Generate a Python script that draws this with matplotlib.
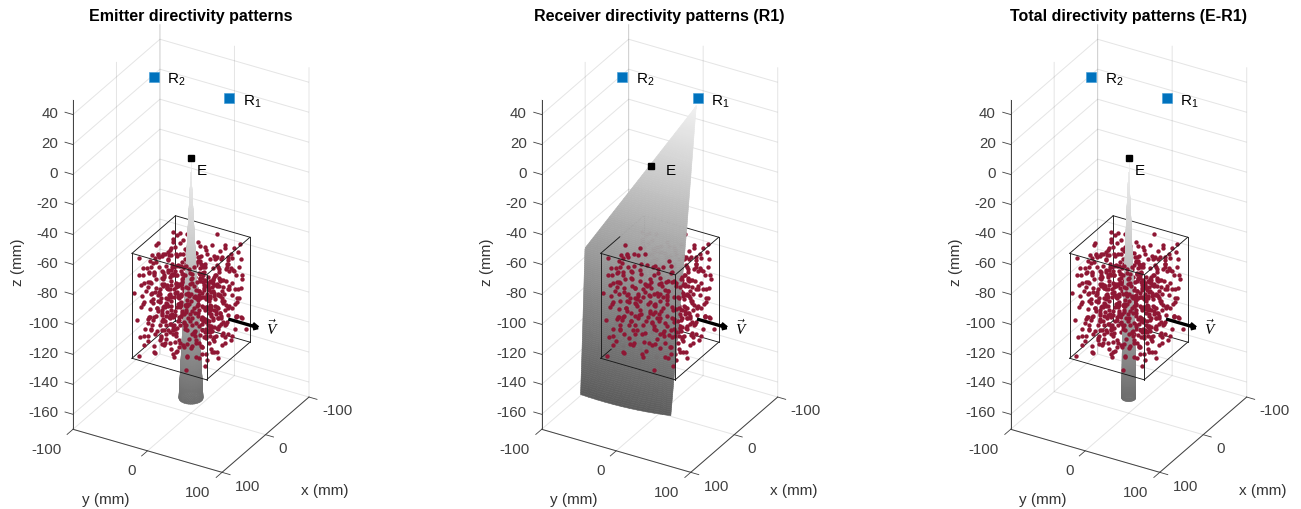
import numpy as np
import matplotlib
matplotlib.use('Agg')
import matplotlib.pyplot as plt
from mpl_toolkits.mplot3d import proj3d

plt.rcParams['font.family'] = ['Liberation Sans', 'DejaVu Sans']
plt.rcParams['mathtext.fontset'] = 'custom'
plt.rcParams['mathtext.rm'] = 'Liberation Sans'
plt.rcParams['mathtext.it'] = 'Liberation Serif:italic'
plt.rcParams['axes.unicode_minus'] = False

W, H = 1301, 509
titles = ['Emitter directivity patterns', 'Receiver directivity patterns (R1)', 'Total directivity patterns (E-R1)']
xy_ticks = [-100, 0, 100]
z_ticks = list(range(-160, 41, 20))
emitter = [(0, 0, 0), (20, 0, 0), (0, 0, 0)]
r1 = (-22, 38, 40)
r2 = (-22, -63, 40)
velocity = (0, 50, -100, 0, 40, 0)
box_x = (-50, 50); box_y = (-50, 50); box_z = (-128, -58)

# scatterers: (x, y, z) in mm
scatterers = [
(41,-46,-63),(-12,-38,-71),(27,-44,-88),(-33,-47,-102),(8,-41,-119),(46,-36,-77),(-44,-31,-66),(19,-33,-95),(-25,-42,-111),(36,-28,-124),
(2,-48,-83),(-8,-29,-60),(31,-39,-105),(-38,-35,-90),(14,-26,-72),(44,-43,-114),(-19,-24,-99),(24,-30,-62),(-47,-40,-122),(6,-35,-108),
(38,-22,-85),(-29,-27,-75),(12,-45,-68),(-41,-23,-116),(29,-37,-93),(-5,-43,-126),(48,-25,-103),(-16,-33,-81),(21,-21,-118),(-35,-44,-64),
(33,-48,-98),(-10,-20,-89),(4,-24,-113),(42,-32,-70),(-23,-37,-125),(17,-47,-79),(-48,-28,-87),(26,-18,-107),(-2,-31,-96),(37,-41,-121),
(-31,-19,-73),(11,-28,-65),(45,-19,-91),(-14,-46,-117),(22,-25,-83),(-42,-45,-100),(7,-17,-76),(34,-34,-110),(-27,-30,-61),(16,-40,-127),
(-6,-22,-104),(40,-15,-67),(-37,-16,-94),(28,-23,-120),(-18,-41,-86),(47,-30,-78),(1,-37,-69),(-45,-20,-109),(20,-14,-101),(-9,-34,-123),
(36,-46,-82),(-24,-13,-92),(13,-19,-59),(43,-11,-115),(-33,-25,-74),(5,-12,-97),(30,-16,-112),(-46,-13,-84),(-13,-16,-66),(24,-42,-106),
(-40,-38,-79),(10,-36,-90),(39,-27,-100),(-21,-21,-119),(-3,-14,-72),(18,-10,-126),(49,-14,-62),(-28,-9,-108),(32,-8,-94),(-43,-6,-71),
(3,-8,-116),(25,-12,-77),(-15,-7,-63),(44,-5,-88),(-35,-11,-124),(12,-6,-103),(37,-3,-68),(-8,-10,-85),(-49,-2,-95),(21,-4,-121),
(-26,-3,-80),(7,-2,-110),(41,-9,-96),(-17,-1,-70),(29,0,-64),(-39,1,-113),(16,2,-86),(46,3,-105),(-6,4,-118),(-30,5,-91),
(34,6,-75),(-47,7,-61),(9,-1,-99),(23,8,-125),(-12,9,-78),(42,10,-111),(-36,-4,-102),(2,11,-67),(31,12,-89),(-22,13,-122),
(48,1,-83),(-44,14,-76),(14,6,-93),(-3,15,-107),(38,16,-60),(-27,17,-98),(19,18,-114),(-14,3,-69),(45,19,-127),(-33,20,-87),
(6,21,-82),(27,5,-117),(-41,22,-65),(11,23,-101),(35,24,-73),(-19,25,-92),(-8,26,-120),(43,7,-97),(-48,27,-108),(22,28,-62),
(0,29,-84),(-31,30,-74),(16,31,-126),(39,32,-91),(-24,33,-112),(47,34,-71),(-10,35,-104),(28,36,-80),(-37,37,-118),(5,38,-59),
(33,39,-95),(-16,40,-66),(18,41,-109),(-45,42,-86),(42,43,-122),(-5,44,-77),(25,45,-100),(-29,46,-63),(10,47,-115),(36,48,-88),
(-20,49,-103),(-42,34,-93),(8,42,-72),(44,27,-68),(-13,31,-90),(30,22,-106),(-35,26,-79),(3,33,-124),(20,37,-83),(-49,12,-116),
(15,44,-61),(41,38,-110),(-26,40,-119),(-2,17,-98),(26,14,-75),(-11,20,-127),(37,9,-70),(-38,9,-100),(13,12,-111),(-23,2,-85),
(48,23,-99),(-46,31,-67),(7,25,-94),(32,30,-121),(-17,46,-72),(23,47,-89),(-32,48,-107),(45,45,-64),(-7,39,-113),(-40,18,-125),
(29,-48,-73),(-21,-48,-91),(9,-46,-101),(-36,-49,-77),(16,-49,-113),(47,-49,-85),(-4,-47,-64),(-43,-43,-108),(35,-44,-95),(22,-36,-66),
(-30,-33,-120),(-11,-26,-84),(40,-35,-117),(3,-20,-92),(-26,-17,-68),(15,-15,-104),(-39,-12,-88),(30,-20,-76),(-1,-5,-60),(24,-2,-100),
(-20,-11,-114),(43,-17,-82),(-34,2,-72),(10,7,-122),(36,13,-103),(-15,12,-96),(4,18,-74),(28,21,-90),(-44,24,-112),(17,27,-68),
(-28,29,-126),(-9,15,-61),(41,18,-84),(-37,33,-96),(12,35,-107),(33,44,-78),(-19,38,-65),(1,47,-91),(46,39,-101),(-47,46,-119),
(-23,-44,-80),(13,-43,-97),(37,-37,-69),(-8,-39,-116),(25,-27,-109),(-41,-26,-98),(6,-29,-87),(44,-22,-122),(-16,-28,-73),(19,-18,-62),
(-32,-21,-106),(-4,-18,-125),(34,-13,-80),(-24,-8,-99),(14,-1,-69),(48,-7,-112),(-44,-9,-85),(8,4,-78),(26,9,-95),(-12,6,-109),
(39,15,-86),(-30,11,-64),(0,20,-117),(21,24,-73),(-40,28,-81),(31,33,-113),(-6,30,-101),(15,39,-92),(-25,43,-75),(42,47,-83),
(-48,-47,-70),(-15,-45,-94),(20,-38,-78),(-34,-39,-127),(4,-32,-103),(32,-25,-60),(-20,-31,-87),(47,-20,-96),(-42,-18,-76),(9,-23,-124),
(28,-9,-65),(-7,-15,-110),(37,-12,-89),(-28,-2,-118),(17,-7,-82),(-37,5,-98),(45,8,-72),(3,8,-91),(24,15,-109),(-18,19,-83),
(-46,17,-104),(11,19,-63),(35,27,-97),(-3,24,-79),(-33,35,-67),(22,33,-120),(47,29,-86),(-12,42,-114),(7,45,-102),(-39,44,-90),
(30,40,-70),(-26,24,-95),(-49,38,-74),(18,8,-68),(-2,-26,-77),(-13,-35,-101),(27,-32,-115),(-45,-34,-83),(39,-40,-92),(11,-40,-61),
(-17,-12,-90),(33,-5,-123),(5,-4,-85),(-31,-6,-67),(22,3,-104),(-10,11,-72),(40,5,-118),(-24,16,-110),(13,16,-77),(-42,10,-93),
(32,17,-66),(-5,33,-88),(19,30,-98),(-35,41,-108),(44,36,-75),(-14,22,-121),(6,13,-100),(28,44,-116),(-21,34,-60),(-47,21,-81),
(-27,-36,-84),(17,-29,-101),(-9,-44,-74),(35,-21,-90),(-38,-29,-112),(1,-26,-68),(23,-13,-123),(-20,-5,-77),(46,-1,-93),(-45,3,-119),
(9,10,-88),(30,14,-80),(-16,17,-100),(-33,23,-71),(3,27,-108),(38,21,-96),(-7,37,-85),(20,42,-68),(-28,37,-123),(42,41,-90),
(14,-47,-86),(-29,-45,-93),(43,-47,-104),(-3,-40,-90),(26,-34,-74),(-44,-25,-103),(8,-15,-64),(-23,-15,-96),(36,-10,-107),(-12,-4,-127),
(18,-3,-92),(-36,-2,-80),(2,3,-76),(41,1,-122),(-25,8,-116),(11,14,-94),(27,26,-101),(-41,15,-70),(-8,21,-91),(34,35,-63),
(-19,29,-82),(16,23,-118),(47,14,-78),(-30,42,-99),(5,36,-112),(24,38,-97),(-48,6,-89),(37,46,-107),(-11,47,-69),(-37,22,-115),
(10,-31,-80),(-30,-41,-69),(31,-26,-98),(-6,-33,-112),(20,-46,-120),(-18,-37,-94),(45,-38,-72),(-47,-16,-91),(15,-24,-86),(-25,-25,-64),
(38,-16,-101),(-1,-11,-79),(25,-17,-93),(-35,-18,-123),(8,-9,-71),(-14,-2,-106),(31,4,-83),(-42,-1,-97),(18,5,-127),(-9,8,-66),
(44,13,-90),(-27,14,-88),(4,23,-95),(26,19,-63),(-40,32,-72),(12,28,-86),(35,41,-104),(-16,36,-118),(-2,42,-80),(47,47,-95),
(-33,-10,-78),(21,-41,-84),(-11,-42,-107),(39,-31,-109),(-22,-6,-93),(7,-37,-125),(29,-6,-86),(-46,-37,-97),(14,-35,-67),(-38,-7,-109),
(2,-16,-99),(33,-18,-70),(-17,-19,-80),(42,-26,-101),(-5,-25,-119),(23,-20,-90),(-31,-14,-102),(10,1,-96),(38,3,-79),(-21,7,-77),
(-4,10,-93),(29,11,-115),(-34,13,-105),(17,14,-86),(-13,25,-67),(43,25,-112),(6,31,-99),(-26,31,-113),(24,25,-79),(-44,36,-102),
(11,43,-124),(31,47,-66),(-9,45,-95),(-36,47,-80),(40,29,-104),(-23,21,-88),(19,12,-73),(0,6,-102),(-49,-21,-113),(36,-33,-86),
(-16,-47,-110),(5,-44,-74),(25,-40,-100),(-41,-48,-95),(47,-43,-126),(-28,-23,-92),(13,-13,-117),(-8,-21,-98),(30,-30,-83),(-19,-26,-108),
(40,-23,-74),(1,-19,-88),(-37,-24,-85),(17,-11,-99),(-11,-13,-75),(26,-1,-91),(-29,-13,-118),(43,2,-100),(6,0,-89),(-18,4,-94),
(35,8,-92),(-41,5,-83),(15,10,-106),(-6,14,-84),(28,17,-97),(-33,17,-120),(2,16,-90),(41,24,-77),(-20,27,-104),(9,30,-81),
(-45,29,-90),(32,37,-88),(-12,38,-99),(23,41,-74),(-2,36,-107),(44,33,-117),(-30,45,-88),(16,46,-96),(-43,40,-62),(5,41,-78),
(-36,-42,-74),(18,-44,-70),(-7,-36,-92),(42,-41,-87),(-22,-34,-115),(9,-27,-104),(33,-32,-66),(-46,-24,-119),(23,-9,-83),(-13,-23,-63),
(37,-19,-113),(-27,-12,-71),(3,-27,-95),(46,-12,-99),(-39,-20,-104),(14,-20,-110),(-9,-17,-82),(28,-14,-89),(-32,-7,-86),(6,-6,-125),
(35,-1,-114),(-19,-3,-101),(11,3,-83),(-44,0,-78),(24,6,-71),(-5,7,-98),(40,11,-75),(-29,8,-122),(16,-5,-108),(-13,14,-92),
(30,16,-94),(-37,12,-74),(8,16,-119),(45,22,-92),(-22,18,-68),(2,22,-104),(19,21,-87),(-42,20,-98),(35,30,-84),(-9,27,-76),
(26,32,-108),(-30,26,-85),(12,38,-76),(-17,33,-96),(43,31,-100),(-39,38,-110),(4,44,-88),(22,48,-117),(-25,47,-93),(38,44,-69),
(-47,-10,-101),(-34,-30,-96),(-16,-40,-77),(12,-32,-116),(29,-41,-81),(46,-27,-65),(-5,-12,-87),(21,-28,-92),(-24,-19,-76),(39,-6,-83),
(-41,-14,-68),(4,-39,-100),(-12,-31,-122),(33,-43,-112),(16,-17,-73),(-28,-47,-88),(8,-48,-95),(-45,-42,-89),(26,-48,-119),(-19,-15,-105),
(36,-24,-94),(-3,-29,-83),(11,-11,-91),(42,-14,-71),(-31,-27,-100),(-14,-9,-83),(22,-7,-112),(-36,-9,-90),(7,-13,-84),(47,-9,-104),
(-24,11,-102),(0,12,-79),(32,9,-100),(-46,10,-110),(15,19,-95),(-11,16,-115),(38,19,-108),(-34,18,-82),(6,27,-90),(24,30,-72),
(-6,24,-110),(44,18,-98),(-28,21,-78),(13,33,-93),(-41,27,-105),(30,27,-81),(-18,41,-86),(1,39,-97),(41,35,-73),(-33,30,-91),
(18,36,-102),(-8,32,-70),(34,47,-98),(-47,33,-85),(10,24,-110),(27,41,-87),(-15,28,-106),(-38,42,-76),(47,42,-113),(-2,47,-103),
(20,-36,-89),(-10,-8,-97),(32,-36,-103),(-42,-37,-114),(6,-22,-79),(-20,-42,-98),(38,-47,-75),(-6,-46,-97),(14,-12,-82),(27,-23,-100),
(-33,-15,-84),(3,-3,-94),(19,-1,-78),(-26,-10,-87),(44,-3,-80),(-40,-4,-92),(10,-18,-112),(34,-9,-99),(-16,1,-115),(-3,1,-88),
(25,12,-84),(-37,17,-88),(8,20,-101),(-21,23,-115),(40,14,-92),(-7,19,-78),(30,24,-112),(-43,24,-78),(17,26,-91),(-27,34,-102),
(3,36,-93),(36,36,-100),(-12,44,-82),(23,35,-105),(-34,45,-95),(12,48,-83),(45,26,-80),(-46,41,-112),(-1,26,-97),(28,47,-76)
]
pts_x = [p[0] for p in scatterers]
pts_y = [p[1] for p in scatterers]
pts_z = [p[2] for p in scatterers]

cone_z = [[0, -10, -160], None, [0, -10, -40, -80, -130, -160]]
cone_r = [[0, 0, 14], None, [0, 0, 2.5, 5, 7.5, 8]]
sheet_plane_x = (-22, 0.285)
sheet_zl = [35, -71, -161]; sheet_yl = [37, -94.6, -85.3]
sheet_zr = [35, -42, -158.5]; sheet_yr = [37, 37, 35]
sheet_gz = [40, 0, -50, -100, -160]; sheet_gv = [0.96, 0.84, 0.67, 0.52, 0.36]
cone_gz = [0, -50, -100, -160]; cone_gv = [0.95, 0.82, 0.66, 0.42]

origins = [(73.0, 429.3), (541.7, 429.3), (1010.7, 429.3)]

fig = plt.figure(figsize=(W/100, H/100), dpi=100)

def disp(ax, p):
    ax.M = ax.get_proj()
    xs, ys, _ = proj3d.proj_transform(p[0], p[1], p[2], ax.M)
    return ax.transData.transform((xs, ys))

def place(ax, ox, oy):
    A = (100, -100, -170); B = (-100, 100, 50)
    tx = ox + 236.0
    w = 0.4
    for _ in range(3):
        ax.set_position([0.3, 0.2, w, w*W/H]); ax.apply_aspect()
        a = disp(ax, A); b = disp(ax, B)
        w *= (tx-ox)/(b[0]-a[0])
    ax.set_position([0.3, 0.2, w, w*W/H]); ax.apply_aspect()
    a = disp(ax, A)
    dx = (ox-a[0])/W; dy = ((H-oy)-a[1])/H
    ax.set_position([0.3+dx, 0.2+dy, w, w*W/H]); ax.apply_aspect()

def colors(Z, gz, gv):
    g = np.interp(-0.25*(Z[:-1, :-1]+Z[1:, :-1]+Z[:-1, 1:]+Z[1:, 1:]), -np.asarray(gz), gv)
    return np.dstack([g, g, g, np.ones_like(g)])

def nudge(artist, ax, dx, dy):
    # the 3D axis resets label positions at each draw, so shift them as they are set
    base = artist.set_position
    def shifted(xy):
        d = ax.transData.transform(xy) + np.array([dx, dy])
        base(tuple(ax.transData.inverted().transform(d)))
    artist.set_position = shifted

tick_ink = (0.25, 0.25, 0.25)
for i in range(3):
    ax = fig.add_subplot(1, 3, i+1, projection='3d', computed_zorder=False)
    ax.set_proj_type('ortho')
    ax.view_init(elev=30, azim=30)
    ax.set_box_aspect((1, 0.99, 2.19))
    ax.set_xlim(-100, 100, view_margin=0); ax.set_ylim(-100, 100, view_margin=0); ax.set_zlim(-170, 50, view_margin=0)
    ax.patch.set_alpha(0)
    ox, oy = origins[i]
    place(ax, ox, oy)
    ax.set_xticks(xy_ticks); ax.set_yticks(xy_ticks); ax.set_zticks(z_ticks)
    ax.zaxis.set_ticks_position('lower')
    ax.zaxis.set_label_position('lower')
    ax.xaxis._get_tickdir = lambda pos: 1
    ax.yaxis._get_tickdir = lambda pos: 0
    ax.zaxis._get_tickdir = lambda pos: 1
    for a, f in ((ax.xaxis, -0.67), (ax.yaxis, -0.85), (ax.zaxis, 0.67)):
        a.set_pane_color((1, 1, 1, 0))
        a.pane.set_edgecolor('none')
        a._axinfo['grid'].update(color=(0.15, 0.15, 0.15, 0.12), linewidth=0.7)
        a._axinfo['tick'].update(inward_factor=0, outward_factor=f)
        a._axinfo['tick']['linewidth'] = {True: 0.6, False: 0.4}
        a._axinfo['tick']['color'] = tick_ink
        a._axinfo['axisline']['color'] = tick_ink
        a._axinfo['axisline']['linewidth'] = 0.7
        a.line.set_color(tick_ink)
        a.line.set_linewidth(0.7)
        a.set_rotate_label(False)
    ax.tick_params(labelsize=10.8, colors=tick_ink, pad=3, width=0.6)
    ink = (0.2, 0.2, 0.2)
    ax.set_xlabel('x (mm)', fontsize=11, color=ink, rotation=0, ha='center', va='center')
    ax.set_ylabel('y (mm)', fontsize=11, color=ink, rotation=0, ha='center', va='center')
    ax.set_zlabel('z (mm)', fontsize=11, color=ink, rotation=90, ha='center', va='center')
    nudge(ax.xaxis.label, ax, 37, 0)
    nudge(ax.yaxis.label, ax, -29, 12)
    nudge(ax.zaxis.label, ax, -19, 7)
    for t in ax.xaxis.get_major_ticks():
        t.label1.set_ha('left'); nudge(t.label1, ax, 3, 17.5)
    for t in ax.yaxis.get_major_ticks():
        t.label1.set_ha('right'); nudge(t.label1, ax, -6, 13.5)
    for t in ax.zaxis.get_major_ticks():
        t.label1.set_ha('right'); nudge(t.label1, ax, 1, 10)
    inv = ax.transAxes.inverted()
    tx, ty = inv.transform((ox+118, H-15))
    ax.set_title(titles[i], x=tx, y=ty*1.0635, va='center', fontsize=11.5, fontweight='bold', color='k')

    px = np.array(pts_x, float); py = np.array(pts_y, float); pz = np.array(pts_z, float)
    if i == 1:
        x0, slope = sheet_plane_x
        split = lambda z: x0 + (40-np.asarray(z))*slope
        front = px > split(pz)
        zs = np.linspace(35, -158, 160)
        s = np.linspace(0, 1, 12)
        yl = np.interp(-zs, -np.array(sheet_zl), sheet_yl)
        yr = np.interp(-zs, -np.array(sheet_zr), sheet_yr)
        Y = yl[:, None] + (yr-yl)[:, None]*s[None, :]
        bend = ((35-zs)/193)**10
        Z = zs[:, None] + bend[:, None]*(-3*(1-s)[None, :] - 6*(s*(1-s))[None, :])
        X = split(Z)
        ax.plot_surface(X, Y, Z, facecolors=colors(Z, sheet_gz, sheet_gv), shade=False, rstride=1, cstride=1,
                        linewidth=0.4, antialiased=True, zorder=2)
    else:
        front = px*0.75 + py*0.433 > 0
        zs = np.linspace(cone_z[i][0], cone_z[i][-1], 150)
        r = np.interp(-zs, -np.array(cone_z[i]), cone_r[i])
        th = np.linspace(0, 2*np.pi, 41)
        X = r[:, None]*np.cos(th)[None, :]
        Y = r[:, None]*np.sin(th)[None, :]
        Z = zs[:, None]*np.ones((1, th.size))
        ax.plot_surface(X, Y, Z, facecolors=colors(Z, cone_gz, cone_gv), shade=False, rstride=1, cstride=1,
                        linewidth=0.4, antialiased=True, zorder=2)
    red = '#8F1734'
    ax.scatter(px[~front], py[~front], pz[~front], s=10, c=red, depthshade=False, linewidths=0, zorder=1.5)
    ax.scatter(px[front], py[front], pz[front], s=10, c=red, depthshade=False, linewidths=0, zorder=3)

    x0_, x1_ = box_x; y0_, y1_ = box_y; z0_, z1_ = box_z
    edge = dict(color=(0.1, 0.1, 0.1), lw=0.65)
    for (a, b) in [((x0_, y0_, z0_), (x0_, y1_, z0_)), ((x0_, y0_, z1_), (x0_, y1_, z1_)), ((x0_, y0_, z0_), (x0_, y0_, z1_))]:
        ax.plot(*zip(a, b), zorder=1, **edge)
    for z_ in (z0_, z1_):
        if i == 1:
            xc = split(z_)
            ax.plot([x1_, xc], [y0_, y0_], [z_, z_], zorder=4, **edge)
            ax.plot([xc, x0_], [y0_, y0_], [z_, z_], zorder=1, **edge)
        else:
            ax.plot([x1_, x0_], [y0_, y0_], [z_, z_], zorder=1, **edge)
        ax.plot([x1_, x1_], [y0_, y1_], [z_, z_], zorder=4, **edge)
        ax.plot([x1_, x0_], [y1_, y1_], [z_, z_], zorder=4, **edge)
    ax.plot([x1_, x1_], [y0_, y0_], [z0_, z1_], zorder=4, **edge)
    ax.plot([x1_, x1_], [y1_, y1_], [z0_, z1_], zorder=4, **edge)
    ax.plot([x0_, x0_], [y1_, y1_], [z0_, z1_], zorder=4, **edge)

    ax.quiver(*velocity, color='k', linewidth=2.4, arrow_length_ratio=0.18, zorder=5)
    ax.text(0, 109, -98, r'$\vec{V}$', fontsize=11, ha='center', va='center', zorder=6)
    for R, name in ((r1, 'R$_1$'), (r2, 'R$_2$')):
        ax.plot([R[0]], [R[1]], [R[2]], 's', ms=7.3, color='#0072BD', mec='#3E9BD6', mew=0.4, zorder=6)
        ax.text(R[0], R[1]+31, R[2]+2, name, fontsize=11, ha='center', va='center', color='k', zorder=6)
    E = emitter[i]
    ax.plot([E[0]], [E[1]], [E[2]], 's', ms=4.3, color='k', zorder=6)
    ax.text(0, 14.3, -6.6, 'E', fontsize=11, ha='center', va='center', color='k', zorder=6)

fig.savefig('out.png', dpi=100)
